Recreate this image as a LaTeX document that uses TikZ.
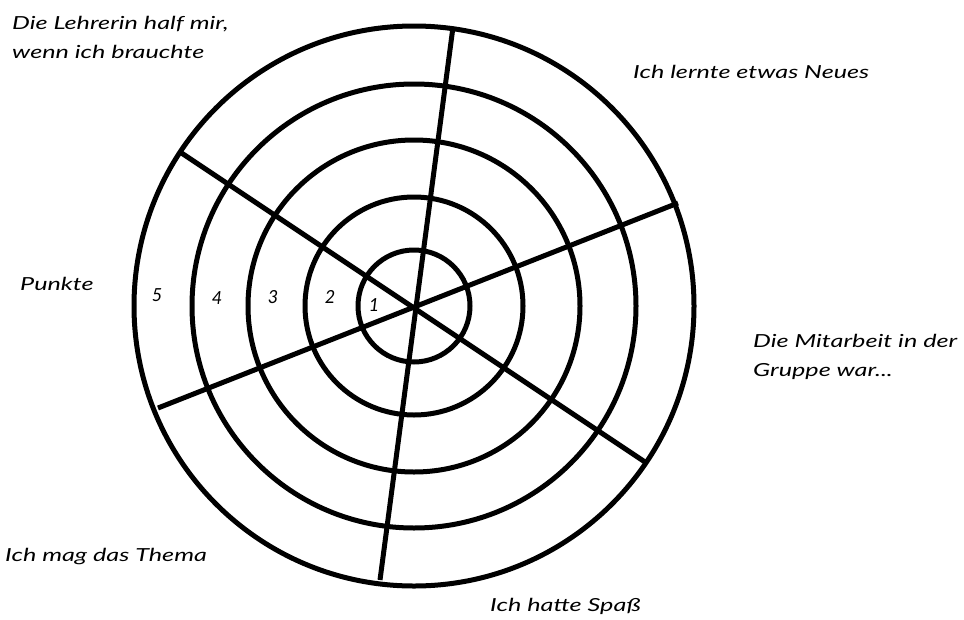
\documentclass[tikz,border=0pt]{standalone}
\usepackage{fontspec}
\setmainfont{Lato}[FakeStretch=1.4]
\newfontfamily\numfont{Lato}
\begin{document}
\begin{tikzpicture}[x=1pt,y=-1pt,
  ring/.style={circle,draw,line width=5pt,inner sep=0pt,minimum size=#1},
  spoke/.style={line width=5pt},
  lbl/.style={anchor=west,inner sep=0pt,font=\fontsize{18}{29}\selectfont\itshape,align=left},
  num/.style={inner sep=0pt,font=\numfont\fontsize{18}{18}\selectfont\itshape}]
\useasboundingbox (0,0) rectangle (964,619);
\coordinate (c) at (414,306);
\node[ring=112pt] (r1) at (c) {};
\node[ring=218pt] (r2) at (c) {};
\node[ring=332pt] (r3) at (c) {};
\node[ring=444pt] (r4) at (c) {};
\node[ring=560pt] (r5) at (c) {};
\coordinate (a1) at (453,27);
\coordinate (b1) at (380,580);
\coordinate (a2) at (180,152);
\coordinate (b2) at (645,462);
\coordinate (a3) at (158,408);
\coordinate (b3) at (678,203);
\draw[spoke] (a1) -- (b1);
\draw[spoke] (a2) -- (b2);
\draw[spoke] (a3) -- (b3);
\node[lbl] (t1) at (12,37) {Die Lehrerin half mir,\\wenn ich brauchte};
\node[lbl] (t2) at (633,72) {Ich lernte etwas Neues};
\node[lbl] (t3) at (753,357) {Die Mitarbeit in der\\Gruppe war...};
\node[lbl] (t4) at (5,556) {Ich mag das Thema};
\node[lbl] (t5) at (490,606) {Ich hatte Spaß};
\node[lbl] (t6) at (20,284) {Punkte};
\node[num] (n5) at (157,295) {5};
\node[num] (n4) at (217,298) {4};
\node[num] (n3) at (273,297) {3};
\node[num] (n2) at (330,297) {2};
\node[num] (n1) at (374,305) {1};
\end{tikzpicture}
\end{document}
